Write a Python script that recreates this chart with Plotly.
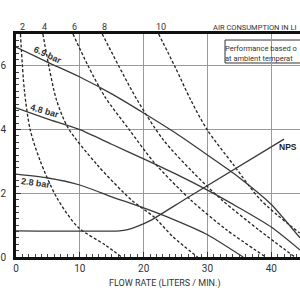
import plotly.graph_objects as go

# ---- data (flow L/min, head bar) ----
flow_69 = [0, 5, 10, 15, 20, 25, 30, 35, 40, 44.5]
head_69 = [6.59, 6.11, 5.65, 5.12, 4.52, 3.89, 3.2, 2.49, 1.65, 0.6]

flow_48 = [0, 5, 10, 15, 20, 25, 30, 35, 40, 44.5]
head_48 = [4.68, 4.33, 4.0, 3.54, 3.08, 2.61, 2.1, 1.54, 0.94, 0.22]

flow_28 = [0, 5, 10, 15, 20, 25, 30, 35.6]
head_28 = [2.6, 2.48, 2.26, 1.89, 1.54, 1.15, 0.7, 0.0]

flow_npsh = [0, 16.2, 17.5, 19, 21.1, 26.6, 42]
head_npsh = [0.82, 0.82, 0.86, 0.96, 1.15, 1.83, 3.7]

air_labels = ["2", "4", "6", "8", "10"]
air_flow = [
    [0.70, 1.31, 2.23, 3.75, 6.34, 9.70, 13.96, 16.55],
    [4.21, 5.27, 6.34, 8.17, 12.74, 18.08, 21.59, 24.63, 28.45],
    [8.93, 11.22, 13.96, 17.77, 21.59, 27.38, 33.02, 39.12],
    [13.51, 18.99, 23.11, 27.68, 32.26, 38.05, 43.69],
    [22.35, 24.94, 27.38, 29.97, 34.09, 38.35, 44.45],
]
air_head = [
    [7.0, 5.24, 3.99, 3.04, 1.88, 0.94, 0.38, 0.0],
    [7.0, 5.87, 4.93, 4.05, 2.89, 1.79, 1.26, 0.63, 0.0],
    [7.0, 6.03, 5.02, 3.99, 2.98, 1.79, 0.85, 0.0],
    [7.0, 4.93, 3.67, 2.67, 1.79, 0.85, 0.0],
    [7.0, 5.96, 4.93, 3.99, 2.89, 1.79, 0.75],
]

pressure_labels = ["6.9 bar", "4.8 bar", "2.8 bar"]
x_ticks = [0, 10, 20, 30, 40]
y_ticks = [0, 2, 4, 6]

LINE = "#3a3a3a"
TXT = "#333333"
FONT = "Roboto"

fig = go.Figure()

for fx, hy in zip(air_flow, air_head):
    fig.add_trace(go.Scatter(x=fx, y=hy, mode="lines", line=dict(color="#222", width=1.3, dash="3px,2px", shape="spline", smoothing=0.8), hoverinfo="skip"))

for fx, hy in [(flow_69, head_69), (flow_48, head_48), (flow_28, head_28)]:
    fig.add_trace(go.Scatter(x=fx, y=hy, mode="lines", line=dict(color=LINE, width=1.3, shape="spline", smoothing=0.6), hoverinfo="skip"))

fig.add_trace(go.Scatter(x=flow_npsh, y=head_npsh, mode="lines", line=dict(color=LINE, width=1.3, shape="spline", smoothing=0.5), hoverinfo="skip"))

ann = []
# air consumption labels at the top of each dashed curve
for lab, fx in zip(air_labels, air_flow):
    ann.append(dict(x=fx[0] + 0.3, y=1.031, xref="x", yref="paper", text=lab, showarrow=False,
                    font=dict(family=FONT, size=9, color=TXT), xanchor="center", yanchor="middle"))

ann.append(dict(x=0.998, y=1.031, xref="paper", yref="paper", text="AIR CONSUMPTION IN LI", showarrow=False,
                font=dict(family=FONT, size=7.5, color=TXT), xanchor="right", yanchor="middle"))

ann.append(dict(x=0.524, y=-0.117, xref="paper", yref="paper", text="FLOW RATE (LITERS / MIN.)", showarrow=False,
                font=dict(family=FONT, size=9, color=TXT), xanchor="center", yanchor="middle"))

# pressure labels
for lab, (lx, ly, ang) in zip(pressure_labels, [(4.97, 6.34, 25), (4.5, 4.58, 16), (3.14, 2.32, 8)]):
    ann.append(dict(x=lx, y=ly, xref="x", yref="y", text=lab, showarrow=False, textangle=ang,
                    font=dict(family="Liberation Sans", size=9, color=TXT, weight="bold"), xanchor="center", yanchor="middle"))

ann.append(dict(x=0.998, y=3.45, xref="paper", yref="y", text="NPS", showarrow=False,
                font=dict(family="Liberation Sans", size=8.5, color="#222", weight="bold"), xanchor="right", yanchor="middle"))

ann.append(dict(x=0.998, y=0.965, xref="paper", yref="paper",
                text="Performance based o<br>at ambient temperat", showarrow=False, align="left",
                font=dict(family=FONT, size=7.5, color=TXT), xanchor="right", yanchor="top"))

shapes = [dict(type="rect", xref="paper", yref="paper", x0=0.736, x1=1.06, y0=0.870, y1=0.973,
               line=dict(color="#333", width=1), fillcolor="white", layer="below")]

fig.update_layout(
    width=300, height=300,
    margin=dict(l=8, r=0, t=34, b=43),
    plot_bgcolor="white", paper_bgcolor="white",
    showlegend=False,
    annotations=ann,
    shapes=shapes,
    xaxis=dict(range=[0, 44.5], tickvals=x_ticks, showgrid=True, gridcolor="#9a9a9a", gridwidth=1,
               showline=True, linewidth=3, linecolor="#111", mirror=True, zeroline=False,
               ticks="inside", ticklen=5, tickcolor="#333",
               minor=dict(dtick=1, ticks="inside", ticklen=3, tickcolor="#444", showgrid=False),
               tickfont=dict(family=FONT, size=10, color=TXT)),
    yaxis=dict(range=[0, 7], tickvals=y_ticks, showgrid=True, gridcolor="#9a9a9a", gridwidth=1,
               showline=True, linewidth=3, linecolor="#111", zeroline=False,
               ticks="inside", ticklen=5, tickcolor="#333", ticklabelstandoff=5,
               minor=dict(dtick=0.2, ticks="inside", ticklen=3, tickcolor="#444", showgrid=False),
               tickfont=dict(family=FONT, size=10, color=TXT)),
)

fig.write_html("out.html")
